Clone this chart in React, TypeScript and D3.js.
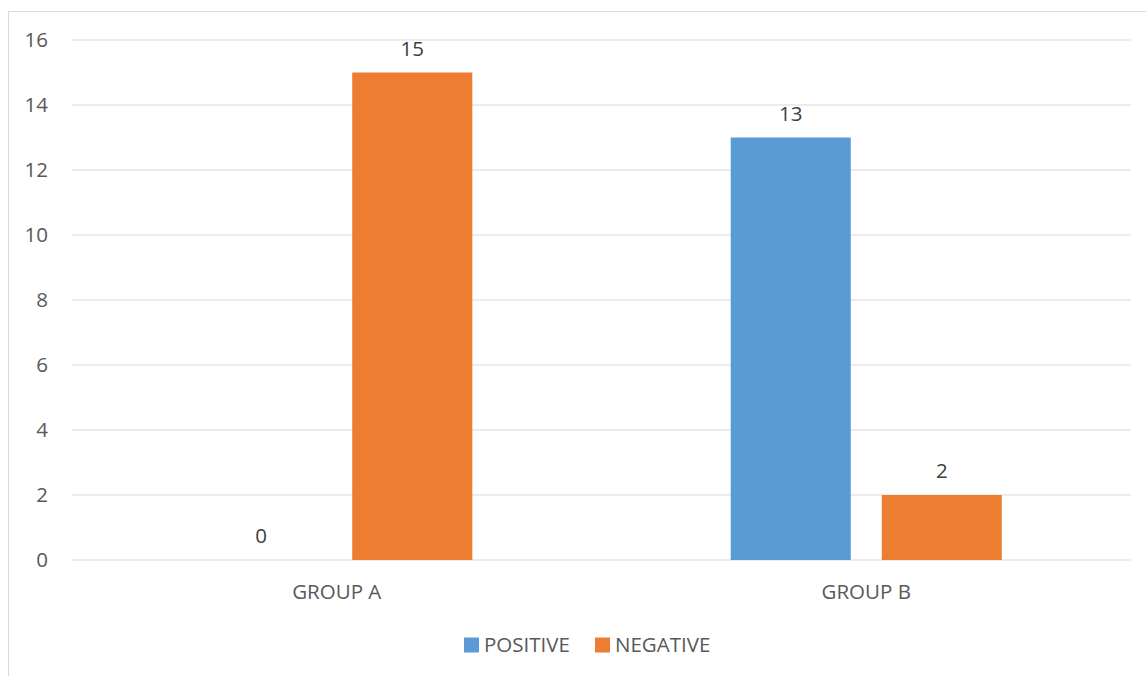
import React from "react";
import * as d3 from "d3";

const groups = ["GROUP A", "GROUP B"];
const seriesNames = ["POSITIVE", "NEGATIVE"];
const positiveValues = [0, 13];
const negativeValues = [15, 2];
const yTicks = [0, 2, 4, 6, 8, 10, 12, 14, 16];
const seriesColors = ["#5B9BD5", "#ED7D31"];

const W = 1146;
const H = 676;
const plot = { left: 72, right: 1131, top: 40, bottom: 560 };
const FONT = "'Open Sans', 'Noto Sans', sans-serif";
const TEXT = "#595959";
const FS = 20.5;

export default function App() {
  const x0 = d3.scaleBand<string>().domain(groups).range([plot.left, plot.right]).padding(0);
  const bw = x0.bandwidth();
  const outer = bw * 0.244;
  const x1 = d3
    .scaleBand<string>()
    .domain(seriesNames)
    .range([outer, bw - outer])
    .paddingInner(0.205)
    .paddingOuter(0);
  const y = d3.scaleLinear().domain([0, 16]).range([plot.bottom, plot.top]);

  const rows = groups.map((g, i) => ({
    group: g,
    values: [positiveValues[i], negativeValues[i]],
  }));

  return (
    <svg
      width={W}
      height={H}
      style={{ position: "absolute", left: 0, top: 0, background: "#fff" }}
      fontFamily={FONT}
    >
      <rect x={8.5} y={11.5} width={W} height={H} fill="none" stroke="#d9d9d9" strokeWidth={1} />
      {yTicks.map((t) => (
        <g key={t}>
          <line x1={plot.left} x2={plot.right} y1={y(t)} y2={y(t)} stroke="#d9d9d9" strokeWidth={1.2} />
          <text x={48} y={y(t)} dy="0.35em" textAnchor="end" fontSize={FS} fill={TEXT}>
            {t}
          </text>
        </g>
      ))}
      {rows.map((r) => (
        <g key={r.group} transform={`translate(${x0(r.group)},0)`}>
          {r.values.map((v, j) => {
            const s = seriesNames[j];
            const bx = x1(s)!;
            return (
              <g key={s}>
                {v > 0 && (
                  <rect x={bx} y={y(v)} width={x1.bandwidth()} height={y(0) - y(v)} fill={seriesColors[j]} />
                )}
                <text
                  x={bx + x1.bandwidth() / 2}
                  y={y(v) - 17}
                  textAnchor="middle"
                  fontSize={FS}
                  fill="#404040"
                >
                  {v}
                </text>
              </g>
            );
          })}
          <text x={bw / 2} y={599} textAnchor="middle" fontSize={FS} fill={TEXT}>
            {r.group}
          </text>
        </g>
      ))}
      {seriesNames.map((s, j) => {
        const lx = [464, 595][j];
        return (
          <g key={s}>
            <rect x={lx} y={637.5} width={15} height={15} fill={seriesColors[j]} />
            <text x={lx + 20} y={652} fontSize={FS} fill={TEXT}>
              {s}
            </text>
          </g>
        );
      })}
    </svg>
  );
}
